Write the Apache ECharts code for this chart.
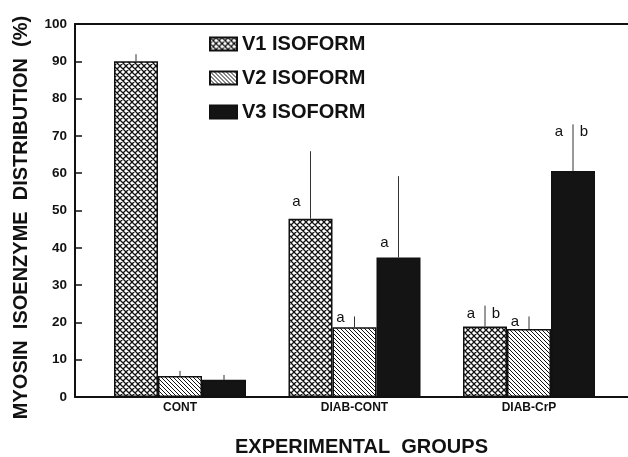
<!DOCTYPE html>
<html>
<head>
<meta charset="utf-8">
<script src="https://cdn.jsdelivr.net/npm/echarts@6/dist/echarts.min.js"></script>
<style>
  html, body { margin: 0; padding: 0; background: #fff; }
  #main { width: 628px; height: 457px; }
</style>
</head>
<body>
<div id="main"></div>
<script>
    // data
    var groups = ['CONT', 'DIAB-CONT', 'DIAB-CrP'];
    var groupPos = [1, 2, 3];
    var v1 = [90, 47.8, 18.9];
    var v1Err = [1.9, 18.1, 5.6];
    var v2 = [5.6, 18.7, 18.2];
    var v2Err = [1.4, 2.9, 3.4];
    var v3 = [4.6, 37.4, 60.6];
    var v3Err = [1.3, 21.8, 12.5];
    // significance letters (left / right of the error bar) and the height they sit at
    var v1Sig = [['', ''], ['a', ''], ['a', 'b']];
    var v2Sig = [['', ''], ['a', ''], ['a', '']];
    var v3Sig = [['', ''], ['a', ''], ['a', 'b']];
    var v1SigAt = [0, 52.2, 22.3];
    var v2SigAt = [0, 21.2, 20.2];
    var v3SigAt = [0, 41.4, 71];
    var yTicks = [0, 100, 10];

    var barW = 44;
    var font = '"Liberation Sans", Arial, Helvetica, sans-serif';

    function pattern(kind) {
        var s = kind == 'cross' ? 6 : 4;
        var c = document.createElement('canvas');
        c.width = s; c.height = s;
        var g = c.getContext('2d');
        g.fillStyle = '#fff';
        g.fillRect(0, 0, s, s);
        g.strokeStyle = '#111';
        g.lineWidth = kind == 'cross' ? 1.3 : 1;
        g.beginPath();
        g.moveTo(-1, -1); g.lineTo(s + 1, s + 1);
        g.moveTo(s - 1, -1); g.lineTo(s + 1, 1);
        g.moveTo(-1, s - 1); g.lineTo(1, s + 1);
        if (kind == 'cross') {
            g.moveTo(s + 1, -1); g.lineTo(-1, s + 1);
            g.moveTo(1, -1); g.lineTo(-1, 1);
            g.moveTo(s + 1, s - 1); g.lineTo(s - 1, s + 1);
        }
        g.stroke();
        return { image: c, repeat: 'repeat' };
    }

    function pairs(vals) {
        return vals.map(function (v, i) { return [groupPos[i], v]; });
    }

    function barSeries(name, vals, fill) {
        return {
            name: name,
            type: 'bar',
            data: pairs(vals),
            barWidth: barW,
            barGap: '0%',
            itemStyle: { color: fill, borderColor: '#111', borderWidth: 1.5 },
            emphasis: { disabled: true },
            animation: false
        };
    }

    function errSeries(k, vals, errs, sig, sigAt) {
        return {
            type: 'custom',
            data: vals.map(function (v, i) { return [groupPos[i], v, errs[i], sigAt[i]]; }),
            renderItem: function (params, api) {
                var i = params.dataIndex;
                var base = api.coord([api.value(0), api.value(1)]);
                var top = api.coord([api.value(0), api.value(1) + api.value(2)]);
                var x = base[0] + (k - 1) * barW;
                var kids = [{
                    type: 'line',
                    shape: { x1: x, y1: base[1], x2: x, y2: top[1] },
                    style: { stroke: '#333', lineWidth: 1 }
                }];
                var ly = api.coord([api.value(0), api.value(3)])[1];
                if (sig[i][0]) kids.push({
                    type: 'text', x: x - 14, y: ly,
                    style: { text: sig[i][0], font: '15px ' + font, fill: '#111', align: 'center', verticalAlign: 'middle' }
                });
                if (sig[i][1]) kids.push({
                    type: 'text', x: x + 11, y: ly,
                    style: { text: sig[i][1], font: '15px ' + font, fill: '#111', align: 'center', verticalAlign: 'middle' }
                });
                return { type: 'group', children: kids };
            },
            z: 5,
            animation: false
        };
    }

    var myChart = echarts.init(document.getElementById('main'), null, { renderer: 'canvas' });

    var xMin = 1 - 105 / 174.5;
    var xMax = xMin + 553 / 174.5;

    var option = {
        backgroundColor: '#fff',
        textStyle: { fontFamily: font },
        grid: { left: 75, right: 0, top: 24, bottom: 60, containLabel: false, outerBoundsMode: 'none' },
        legend: {
            orient: 'vertical',
            left: 209,
            top: 34,
            padding: 0,
            icon: 'rect',
            itemWidth: 27,
            itemHeight: 13,
            itemGap: 14,
            selectedMode: false,
            data: ['V1 ISOFORM', 'V2 ISOFORM', 'V3 ISOFORM'],
            textStyle: { fontSize: 20, fontWeight: 'bold', color: '#111', lineHeight: 20, fontFamily: font }
        },
        xAxis: [{
            type: 'value',
            min: xMin,
            max: xMax,
            name: 'EXPERIMENTAL  GROUPS',
            nameLocation: 'middle',
            nameGap: 40,
            nameTextStyle: { fontSize: 20, fontWeight: 'bold', color: '#111', padding: [0, 0, 0, 20] },
            axisLine: { show: true, lineStyle: { color: '#111', width: 2 } },
            axisTick: { show: false },
            splitLine: { show: false },
            axisLabel: {
                customValues: groupPos,
                formatter: function (v) { return groups[Math.round(v) - 1]; },
                fontSize: 12,
                fontWeight: 'bold',
                color: '#111',
                margin: 5
            }
        }, {
            type: 'value',
            position: 'top',
            min: xMin,
            max: xMax,
            axisLine: { show: true, lineStyle: { color: '#111', width: 2 } },
            axisTick: { show: false },
            axisLabel: { show: false },
            splitLine: { show: false }
        }],
        yAxis: {
            type: 'value',
            min: yTicks[0],
            max: yTicks[1],
            interval: yTicks[2],
            name: 'MYOSIN  ISOENZYME  DISTRIBUTION  (%)',
            nameLocation: 'middle',
            nameGap: 44,
            nameTextStyle: { fontSize: 20, fontWeight: 'bold', color: '#111', padding: [0, 14, 0, 0] },
            axisLine: { show: true, lineStyle: { color: '#111', width: 2 } },
            axisTick: { show: true, inside: true, length: 7, lineStyle: { color: '#111', width: 1.5 } },
            splitLine: { show: false },
            axisLabel: { fontSize: 13.5, fontWeight: 'bold', color: '#111', margin: 8 }
        },
        series: [
            barSeries('V1 ISOFORM', v1, pattern('cross')),
            barSeries('V2 ISOFORM', v2, pattern('diag')),
            barSeries('V3 ISOFORM', v3, '#141414'),
            errSeries(0, v1, v1Err, v1Sig, v1SigAt),
            errSeries(1, v2, v2Err, v2Sig, v2SigAt),
            errSeries(2, v3, v3Err, v3Sig, v3SigAt)
        ]
    };

    myChart.setOption(option);
</script>
</body>
</html>
